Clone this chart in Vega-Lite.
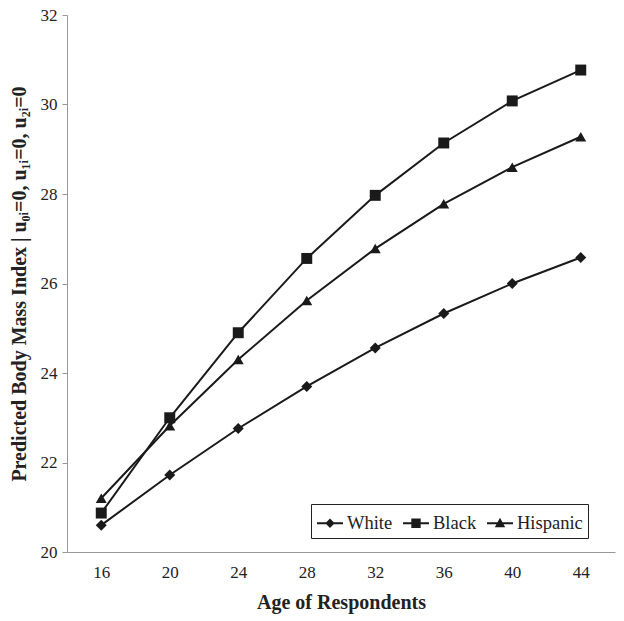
{
  "$schema": "https://vega.github.io/schema/vega-lite/v6.json",
  "width": 548,
  "height": 537,
  "autosize": "none",
  "padding": {"left": 67, "top": 15, "right": 9, "bottom": 69},
  "background": "white",
  "config": {
    "view": {"stroke": null},
    "font": "Liberation Serif",
    "axis": {"labelFont": "Liberation Serif", "titleFont": "Liberation Serif", "labelColor": "#222", "titleColor": "#222", "domainColor": "#999", "tickColor": "#999", "grid": false, "labelFontSize": 17, "titleFontSize": 20, "titleFontWeight": "bold"},
    "legend": {"labelFont": "Liberation Serif"}
  },
  "data": {
    "values": [
      {"age": 16, "group": "White", "bmi": 20.6},
      {"age": 20, "group": "White", "bmi": 21.72},
      {"age": 24, "group": "White", "bmi": 22.76},
      {"age": 28, "group": "White", "bmi": 23.7},
      {"age": 32, "group": "White", "bmi": 24.56},
      {"age": 36, "group": "White", "bmi": 25.33},
      {"age": 40, "group": "White", "bmi": 26.0},
      {"age": 44, "group": "White", "bmi": 26.58},
      {"age": 16, "group": "Black", "bmi": 20.87},
      {"age": 20, "group": "Black", "bmi": 23.0},
      {"age": 24, "group": "Black", "bmi": 24.9},
      {"age": 28, "group": "Black", "bmi": 26.56},
      {"age": 32, "group": "Black", "bmi": 27.97},
      {"age": 36, "group": "Black", "bmi": 29.14},
      {"age": 40, "group": "Black", "bmi": 30.08},
      {"age": 44, "group": "Black", "bmi": 30.77},
      {"age": 16, "group": "Hispanic", "bmi": 21.2},
      {"age": 20, "group": "Hispanic", "bmi": 22.82},
      {"age": 24, "group": "Hispanic", "bmi": 24.3},
      {"age": 28, "group": "Hispanic", "bmi": 25.62},
      {"age": 32, "group": "Hispanic", "bmi": 26.78},
      {"age": 36, "group": "Hispanic", "bmi": 27.78},
      {"age": 40, "group": "Hispanic", "bmi": 28.6},
      {"age": 44, "group": "Hispanic", "bmi": 29.28}
    ]
  },
  "encoding": {
    "x": {"field": "age", "type": "ordinal", "scale": {"type": "point", "padding": 0.5},
      "axis": {"title": "Age of Respondents", "labelAngle": 0, "ticks": false, "labelPadding": 12, "titlePadding": 12, "labelFont": "Liberation Serif"}},
    "y": {"field": "bmi", "type": "quantitative", "scale": {"domain": [20, 32], "nice": false, "zero": false},
      "axis": {"title": "Predicted Body Mass Index | u₀ᵢ=0, u₁ᵢ=0, u₂ᵢ=0", "values": [20, 22, 24, 26, 28, 30, 32], "tickSize": 5, "labelPadding": 5, "titlePadding": 11, "labelFont": "Liberation Serif"}}
  },
  "layer": [
    {
      "mark": {"type": "line", "color": "#1a1a1a", "strokeWidth": 2},
      "encoding": {"detail": {"field": "group"}}
    },
    {
      "mark": {"type": "point", "filled": true, "color": "#1a1a1a", "opacity": 1},
      "encoding": {
        "shape": {"field": "group", "type": "nominal",
          "scale": {"domain": ["White", "Black", "Hispanic"], "range": ["diamond", "square", "triangle-up"]},
          "legend": null},
        "size": {"value": 120}
      }
    },
    {
      "transform": [{"filter": {"field": "bmi", "lt": 0}}],
      "mark": {"type": "point", "filled": true, "color": "#1a1a1a", "opacity": 1},
      "encoding": {
        "shape": {"field": "group", "type": "nominal",
          "scale": {"domain": ["White", "Black", "Hispanic"], "range": ["M-1,-0.075H1V0.075H-1ZM0,-0.36L0.36,0L0,0.36L-0.36,0Z", "M-1,-0.075H1V0.075H-1ZM-0.36,-0.36H0.36V0.36H-0.36Z", "M-1,-0.075H1V0.075H-1ZM0,-0.42L0.4,0.3L-0.4,0.3Z"]},
          "legend": {
            "title": null, "orient": "none", "legendX": 244, "legendY": 489, "direction": "horizontal", "columns": 3,
            "strokeColor": "#222", "padding": 5, "symbolSize": 676, "symbolOffset": 0,
            "labelFont": "Liberation Serif", "labelFontSize": 18.5, "labelColor": "#222", "labelOffset": 3, "columnPadding": 7,
            "symbolOpacity": 1
          }},
        "size": {"value": 676}
      }
    }
  ],
  "resolve": {"scale": {"shape": "independent"}, "legend": {"shape": "independent"}}
}
